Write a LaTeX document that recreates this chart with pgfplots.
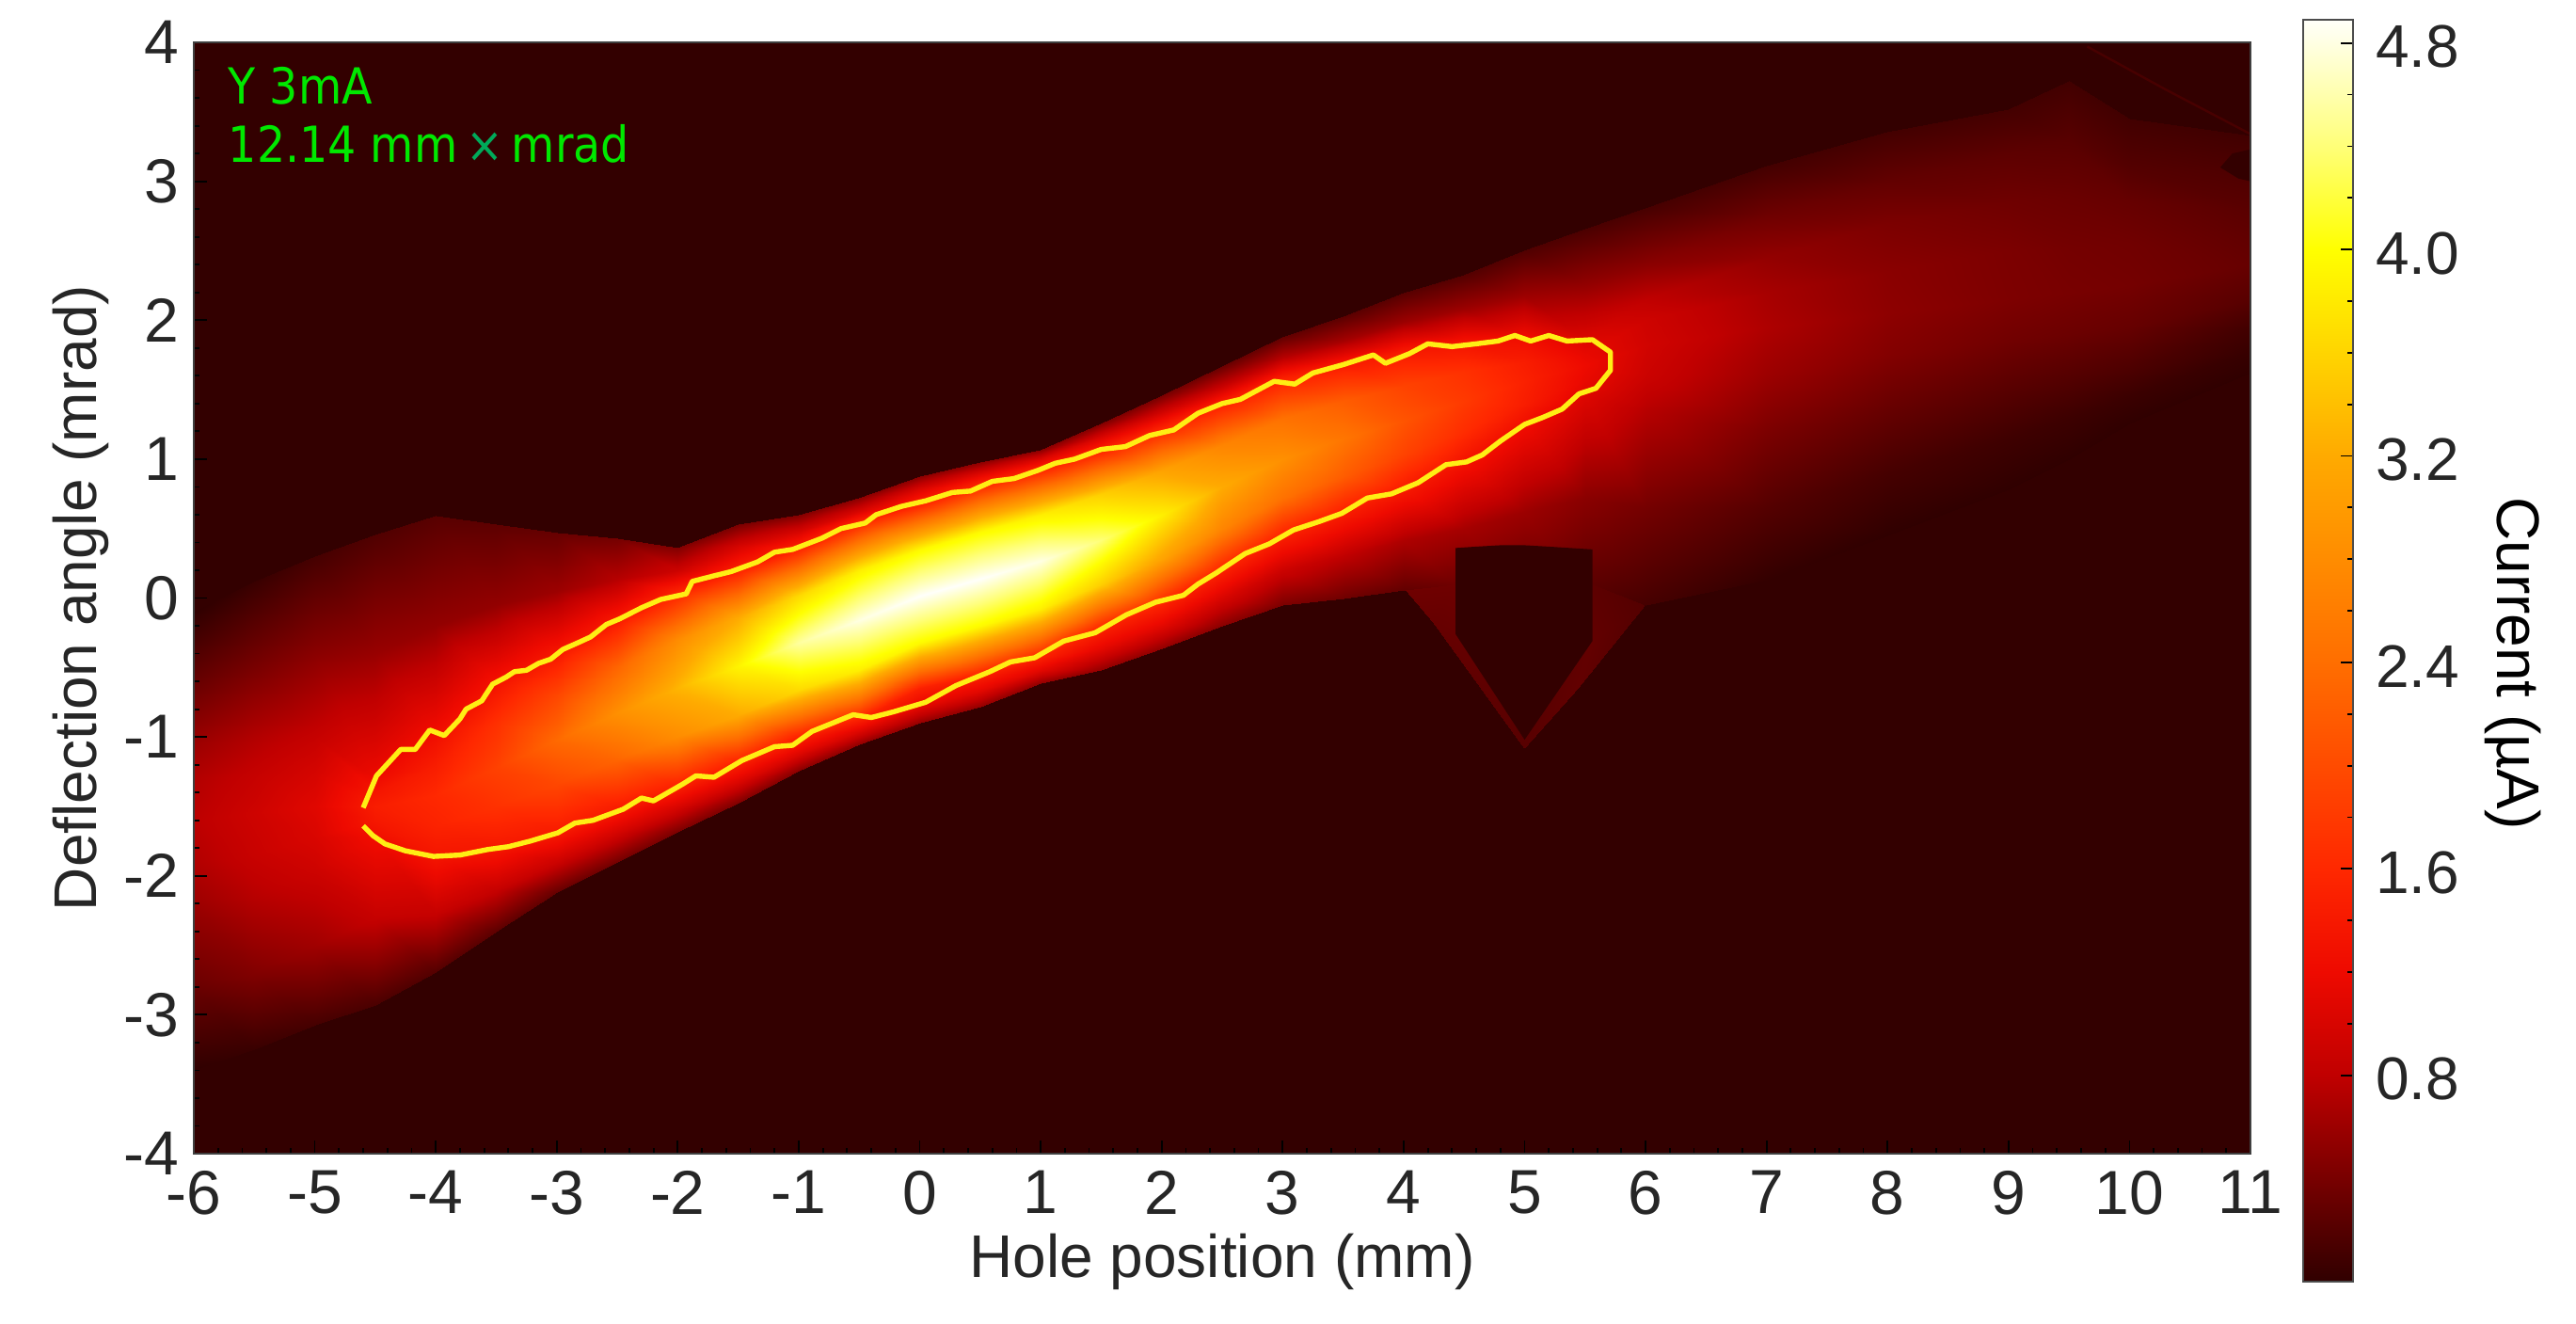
\documentclass[border=0pt]{standalone}
\usepackage{pgfplots}
\usepackage{pgfplotstable}
\pgfplotsset{compat=1.18}
\usepackage{fontspec}
\setmainfont{Liberation Sans}
\newfontfamily\notefont{DejaVu Sans Condensed}
\definecolor{bgc}{RGB}{51,0,0}
\definecolor{contour}{RGB}{255,238,20}
\definecolor{notegreen}{RGB}{0,232,0}
\definecolor{notex}{RGB}{0,170,90}
\definecolor{faintline}{RGB}{72,0,0}
\pgfplotstableread{
x y v
-6 -3.4 0
-6 -2.8 .32
-6 -2.2 .6
-6 -1.9 .72
-6 -1.6 .78
-6 -1.3 .72
-6 -1.05 .6
-6 -.6 .3
-6 -.1 0
-5.5 -3.25 .05
-5.5 -2.7 .45
-5.5 -2.15 .75
-5.5 -1.85 .87
-5.5 -1.55 .92
-5.5 -1.28 .85
-5.5 -1.0 .72
-5.5 -.5 .4
-5.5 .12 .05
-5 -3.07 .12
-5 -2.5 .62
-5 -1.95 .92
-5 -1.72 1.02
-5 -1.5 1.08
-5 -1.25 .98
-5 -1.0 .85
-5 -.4 .5
-5 .3 .12
-4.5 -2.93 .15
-4.5 -2.3 .85
-4.5 -1.72 1.25
-4.5 -1.6 1.38
-4.5 -1.5 1.45
-4.5 -1.4 1.35
-4.5 -1.3 1.2
-4.5 -.4 .58
-4.5 .46 .18
-4 -2.69 .2
-4 -2.27 .85
-4 -1.86 1.35
-4 -1.64 1.52
-4 -1.42 1.6
-4 -1.2 1.45
-4 -.97 1.25
-4 -.2 .55
-4 .59 .22
-3.5 -2.4 .25
-3.5 -2.1 .85
-3.5 -1.8 1.38
-3.5 -1.5 1.7
-3.5 -1.22 1.88
-3.5 -.9 1.68
-3.5 -.6 1.3
-3.5 -.05 .55
-3.5 .53 .25
-3 -2.12 .3
-3 -1.9 .9
-3 -1.68 1.42
-3 -1.34 1.95
-3 -1.02 2.35
-3 -.7 1.95
-3 -.38 1.35
-3 .05 .6
-3 .47 .3
-2.5 -1.9 .38
-2.5 -1.7 .95
-2.5 -1.5 1.45
-2.5 -1.16 2.3
-2.5 -.83 2.85
-2.5 -.5 2.3
-2.5 -.16 1.4
-2.5 .13 .75
-2.5 .43 .38
-2 -1.68 .42
-2 -1.52 .95
-2 -1.35 1.5
-2 -1.0 2.8
-2 -.65 3.3
-2 -.3 2.8
-2 .05 1.5
-2 .2 .9
-2 .36 .45
-1.5 -1.47 .45
-1.5 -1.33 1.0
-1.5 -1.18 1.5
-1.5 -.84 3.2
-1.5 -.49 3.9
-1.5 -.14 3.2
-1.5 .2 1.5
-1.5 .37 1.0
-1.5 .53 .4
-1 -1.24 .5
-1 -1.12 1.05
-1 -1.0 1.5
-1 -.66 3.65
-1 -.32 4.55
-1 .02 3.65
-1 .36 1.5
-1 .48 1.0
-1 .6 .45
-.5 -1.05 .55
-.5 -.96 1.05
-.5 -.87 1.5
-.5 -.52 3.85
-.5 -.16 4.8
-.5 .2 3.85
-.5 .55 1.5
-.5 .63 1.0
-.5 .72 .5
0 -.9 .55
0 -.78 1.1
0 -.65 1.5
0 -.32 3.95
0 .02 4.89
0 .35 3.95
0 .68 1.5
0 .78 1.05
0 .88 .5
.5 -.78 .55
.5 -.67 1.1
.5 -.55 1.5
.5 -.2 3.95
.5 .14 4.89
.5 .48 3.95
.5 .82 1.5
.5 .9 1.05
.5 .98 .5
1 -.61 .55
1 -.52 1.1
1 -.42 1.5
1 -.08 3.85
1 .27 4.8
1 .6 3.85
1 .93 1.5
1 1.0 1.05
1 1.07 .5
1.5 -.52 .55
1.5 -.37 1.1
1.5 -.22 1.5
1.5 .1 3.55
1.5 .42 4.4
1.5 .75 3.55
1.5 1.07 1.5
1.5 1.16 1.0
1.5 1.26 .45
2 -.36 .55
2 -.2 1.1
2 -.05 1.5
2 .28 3.1
2 .6 3.85
2 .92 3.1
2 1.23 1.5
2 1.34 .95
2 1.46 .4
2.5 -.2 .5
2.5 0 1.0
2.5 .2 1.5
2.5 .5 2.7
2.5 .8 3.2
2.5 1.1 2.7
2.5 1.4 1.5
2.5 1.53 .85
2.5 1.67 .32
3 -.05 .42
3 .2 .9
3 .45 1.5
3 .72 2.45
3 1.0 2.85
3 1.29 2.45
3 1.58 1.5
3 1.73 .75
3 1.88 .28
3.5 0 .35
3.5 .3 .8
3.5 .61 1.45
3.5 .88 2.2
3.5 1.15 2.5
3.5 1.42 2.2
3.5 1.68 1.45
3.5 1.85 .65
3.5 2.03 .24
4 .06 .28
4 .42 .7
4 .78 1.4
4 1.03 1.9
4 1.28 2.1
4 1.53 1.9
4 1.78 1.4
4 1.99 .6
4 2.2 .22
4.5 .03 .27
4.5 .5 .65
4.5 .97 1.3
4.5 1.2 1.65
4.5 1.42 1.8
4.5 1.63 1.7
4.5 1.85 1.3
4.5 2.08 .6
4.5 2.33 .2
5 0 .25
5 .62 .6
5 1.25 1.25
5 1.4 1.45
5 1.56 1.5
5 1.7 1.45
5 1.87 1.25
5 2.18 .6
5 2.5 .18
5.5 -.02 .2
5.5 .72 .5
5.5 1.45 1.05
5.5 1.57 1.15
5.5 1.68 1.2
5.5 1.75 1.15
5.5 1.85 1.05
5.5 2.25 .55
5.5 2.66 .15
6 -.05 .12
6 .65 .38
6 1.35 .75
6 1.6 .9
6 1.82 .95
6 2.0 .92
6 2.15 .8
6 2.4 .5
6 2.81 .13
7 .13 .02
7 .65 .2
7 1.2 .42
7 1.6 .6
7 1.95 .7
7 2.2 .66
7 2.45 .55
7 2.75 .35
7 3.11 .11
8 .45 0
8 .9 .12
8 1.35 .3
8 1.75 .46
8 2.05 .52
8 2.35 .5
8 2.7 .42
8 3.0 .28
8 3.36 .11
9 .78 0
9 1.15 .08
9 1.5 .22
9 1.85 .36
9 2.15 .43
9 2.5 .42
9 2.85 .35
9 3.2 .25
9 3.52 .11
9.5 1.0 0
9.5 1.3 .07
9.5 1.57 .19
9.5 1.9 .33
9.5 2.2 .4
9.5 2.52 .38
9.5 2.9 .32
9.5 3.3 .22
9.5 3.72 .1
10 1.26 0
10 1.45 .06
10 1.65 .16
10 1.95 .3
10 2.25 .38
10 2.55 .36
10 2.85 .3
10 3.1 .2
10 3.45 .1
11 1.62 0
11 1.78 .04
11 1.95 .1
11 2.15 .22
11 2.4 .3
11 2.6 .27
11 2.8 .23
11 3.05 .17
11 3.33 .09
}\meshdata
\pgfplotstableread{
x y v
4.02 .06 .35
4.43 .1 .35
4.24 -.17 .3
4.43 -.26 .3
5 -1.08 .22
5 -1.02 .22
5.44 -.65 .28
5.56 -.31 .28
5.99 -.05 .2
5.56 .1 .25
}\vdata
\begin{document}
\begin{tikzpicture}[x=1pt,y=1pt]
\useasboundingbox (0,0) rectangle (684.5,351.5);
\begin{axis}[
  at={(51.5pt,45pt)}, anchor=south west,
  scale only axis, width=546.5pt, height=295.25pt,
  xmin=-6, xmax=11, ymin=-4, ymax=4,
  axis background/.style={fill=bgc},
  axis on top,
  axis line style={black!75, line width=.5pt},
  xtick={-6,...,11}, ytick={-4,...,4},
  minor x tick num=4, minor y tick num=4,
  xtick pos=bottom, ytick pos=left,
  tick align=inside,
  major tick length=3.5pt, minor tick length=1.6pt,
  tick style={black, line width=.45pt},
  /pgf/number format/assume math mode=true,
  tick label style={font=\fontsize{16.5}{18}\selectfont, black!85},
  xticklabel style={yshift=-1pt},
  yticklabel style={xshift=-.5pt},
  xlabel={Hole position (mm)}, ylabel={Deflection angle (mrad)},
  label style={font=\fontsize{16}{18}\selectfont, black!85},
  xlabel style={at={(axis description cs:0.5,-0.097)}, anchor=center},
  ylabel style={at={(axis description cs:-0.055,0.5)}, anchor=center},
  colormap={hotref}{rgb255(0)=(48,0,0) rgb255(80)=(192,0,0) rgb255(120)=(238,10,0) rgb255(160)=(255,40,0) rgb255(240)=(255,110,0) rgb255(320)=(255,170,0) rgb255(400)=(255,255,0) rgb255(440)=(255,255,120) rgb255(489)=(255,255,250)},
  point meta min=0, point meta max=4.89,
  colorbar,
  colorbar style={
    at={(1.0256,1.0203)}, anchor=north west,
    scale only axis, width=13.25pt, height=335.25pt,
    ytick={0.8,1.6,2.4,3.2,4.0,4.8},
    minor y tick num=3,
    yticklabel pos=right,
    yticklabel style={font=\fontsize{16}{18}\selectfont, xshift=2.5pt, yshift=-1pt, /pgf/number format/.cd, fixed, fixed zerofill, precision=1, assume math mode=true},
    ytick pos=right,
    tick align=inside,
    major tick length=3.3pt, minor tick length=1.6pt,
    axis line style={black!70, line width=.7pt},
    ylabel={Current (µA)},
    ylabel style={at={(axis description cs:4.2,0.49)}, anchor=center, rotate=180, font=\fontsize{16}{18}\selectfont},
  },
]
\addplot[surf, shader=interp, mesh/ordering=y varies, mesh/rows=9, mesh/cols=31, point meta=explicit] table[x=x,y=y,meta=v] {\meshdata};
\addplot[surf, shader=interp, mesh/ordering=y varies, mesh/rows=2, mesh/cols=5, point meta=explicit] table[x=x,y=y,meta=v] {\vdata};
\addplot[fill=bgc, draw=none] coordinates {(4.43,.36) (4.6,.37) (4.8,.38) (5.0,.38) (5.2,.37) (5.56,.35) (5.56,-.31) (5.0,-1.02) (4.43,-.26)} --cycle;
\addplot[faintline, line width=.6pt] coordinates {(9.65,3.97) (10.3,3.66) (11,3.34)};
\addplot[fill=bgc, draw=none] coordinates {(10.75,3.1) (10.85,3.2) (11,3.23) (11,3.0) (10.9,3.02)} --cycle;
\addplot[contour, line width=1.35pt, line join=round] coordinates {
(-4.6,-1.51)(-4.49,-1.28)(-4.29,-1.09)(-4.17,-1.09)(-4.05,-.95)(-3.93,-.99)(-3.8,-.87)(-3.75,-.8)(-3.62,-.74)(-3.53,-.62)(-3.42,-.57)(-3.35,-.53)(-3.25,-.52)(-3.15,-.47)(-3.05,-.44)(-2.95,-.37)(-2.82,-.32)(-2.72,-.28)(-2.59,-.19)(-2.48,-.15)(-2.3,-.07)(-2.14,-.01)(-1.93,.03)(-1.88,.12)(-1.7,.16)(-1.56,.19)(-1.34,.26)(-1.2,.33)(-1.05,.35)(-.81,.43)(-.65,.5)(-.45,.54)(-.36,.6)(-.15,.66)(.05,.7)(.27,.76)(.42,.77)(.6,.84)(.78,.86)(.98,.92)(1.12,.97)(1.28,1.0)(1.5,1.07)(1.7,1.09)(1.9,1.17)(2.1,1.21)(2.3,1.33)(2.5,1.4)(2.65,1.43)(2.93,1.56)(3.1,1.54)(3.25,1.62)(3.5,1.68)(3.75,1.75)(3.85,1.69)(4.05,1.76)(4.2,1.83)(4.4,1.81)(4.6,1.83)(4.78,1.85)(4.92,1.89)(5.05,1.85)(5.2,1.89)(5.35,1.85)(5.56,1.86)(5.71,1.77)(5.71,1.64)(5.59,1.51)(5.45,1.47)(5.31,1.36)(5.15,1.3)(5.0,1.25)(4.8,1.13)(4.65,1.03)(4.52,.98)(4.35,.96)(4.12,.83)(3.9,.75)(3.7,.72)(3.49,.61)(3.3,.55)(3.09,.49)(2.89,.39)(2.69,.32)(2.45,.18)(2.3,.1)(2.18,.02)(1.95,-.03)(1.71,-.12)(1.45,-.25)(1.19,-.31)(.95,-.43)(.75,-.46)(.58,-.53)(.3,-.63)(.05,-.75)(-.22,-.82)(-.4,-.86)(-.55,-.84)(-.89,-.96)(-1.05,-1.06)(-1.2,-1.07)(-1.47,-1.17)(-1.7,-1.29)(-1.85,-1.28)(-1.96,-1.34)(-2.2,-1.46)(-2.3,-1.44)(-2.45,-1.52)(-2.7,-1.6)(-2.85,-1.62)(-2.99,-1.69)(-3.22,-1.75)(-3.4,-1.79)(-3.57,-1.81)(-3.8,-1.85)(-4.02,-1.86)(-4.25,-1.82)(-4.42,-1.77)(-4.52,-1.71)(-4.6,-1.64)};
\node[anchor=west, inner sep=0pt, text=notegreen, font=\notefont\fontsize{13.2}{16}\selectfont] at (axis cs:-5.72,3.69) {Y 3mA};
\node[anchor=west, inner sep=0pt, text=notegreen, font=\notefont\fontsize{13.2}{16}\selectfont] at (axis cs:-5.72,3.27) {12.14 mm\,{\color{notex}×}\,mrad};
\end{axis}
\end{tikzpicture}
\end{document}
